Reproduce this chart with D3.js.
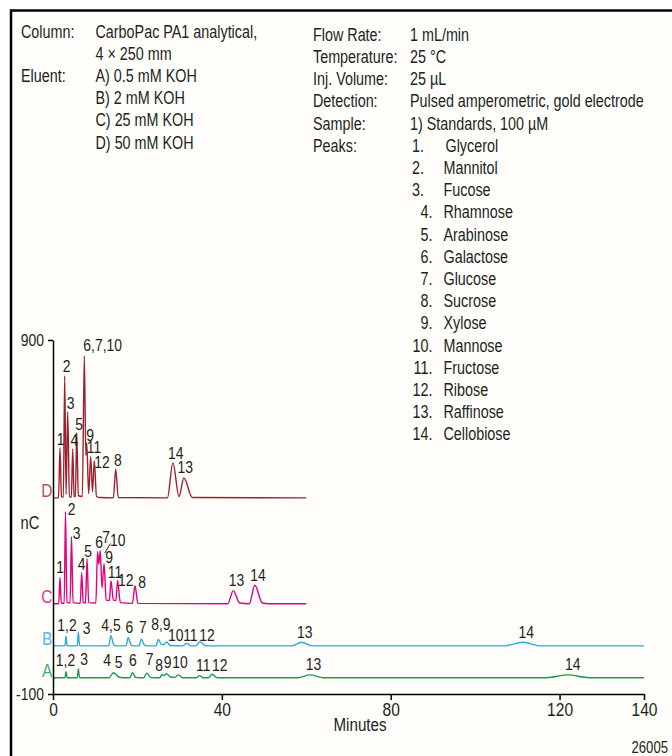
<!DOCTYPE html>
<html>
  <head>
    <script src="https://cdn.jsdelivr.net/npm/d3@7"></script>
    <style>
      body { margin: 0; background: #ffffff; }
      text { font-family: 'Liberation Sans', Arial, sans-serif; fill: #231f20; }
    </style>
  </head>
  <body>
    <script type="text/javascript">

    // Chromatogram traces, [minutes, nC above the trace's own baseline]
    var traceD = [[0,0],[1.3,0],[1.66,141],[2.0,4],[2.45,2],[2.77,345],[3.1,10],[3.48,243],[3.9,4],[4.35,2],
      [4.67,138],[5.0,4],[5.3,3],[5.62,184],[6.0,6],[6.95,4],[7.42,401],[7.78,120],[7.99,155],[8.45,12],
      [8.93,116],[9.35,18],[9.79,105],[10.3,4],[11,1],[14.3,0],[14.86,82],[15.45,1],[27.1,0],[28.4,99],
      [29.85,4],[31.0,56],[33.0,1],[60,0]];
    var traceC = [[0,0],[1.35,0],[1.66,74],[1.95,2],[2.65,1],[2.96,260],[3.3,4],[4.05,2],[4.38,189],[4.75,3],
      [6.45,1],[6.8,88],[7.15,3],[7.7,2],[8.06,127],[8.45,3],[10.15,2],[10.55,147],[10.85,112],[11.2,150],
      [11.6,45],[12.1,113],[12.6,10],[13.35,9],[13.74,65],[14.3,10],[14.9,9],[15.3,66],[15.95,3],[18.8,1],
      [19.43,51],[20.1,1],[41.4,0],[42.7,37],[44.2,2],[46.5,0],[47.8,52],[49.6,2],[51,0],[60,0]];
    var traceB = [[0,0],[2.85,0],[3.08,27],[3.35,0],[5.75,0],[6.0,39],[6.3,0],[13.2,0],[13.7,29],[14.4,3],
      [15,0],[17.3,0],[17.8,24],[18.5,2],[19,0],[20.4,0],[20.9,19],[21.7,2],[22.3,0],[24.4,0],[24.95,18],
      [25.7,4],[26.3,4],[26.9,11],[27.8,1],[30.8,0],[31.7,7],[32.6,0],[33.9,0],[34.8,12],[36,1],[37,0],
      [56.5,0],[58.9,10],[61.5,0],[107,0],[111.3,10],[115.5,0],[140,0]];
    var traceA = [[0,0],[2.85,0],[3.08,17],[3.35,0],[5.75,0],[6.0,25],[6.3,0],[13.3,0],[14.3,14],[15.6,2],
      [16.5,0],[18.2,0],[18.8,14],[19.6,1],[20.5,0],[21.5,0],[22.2,13],[23.1,1],[24,0],[25.3,0],[25.8,9],
      [26.3,6],[26.9,11],[27.8,2],[28.9,1],[29.7,8],[30.7,0],[33.9,0],[34.7,6],[35.6,0],[36.8,0],[37.7,10],
      [38.9,0],[58,0],[60.9,8],[64,0],[117,0],[121.9,8],[127,0],[140,0]];

    // Baseline of each trace (nC) and its name
    var traceNames = ["D", "C", "B", "A"];
    var traceOffsets = [454, 155, 36, -54];
    var traceColors = ["#9e1f30", "#e5007e", "#29abe2", "#13a04f"];

    // Peak labels, [text, minutes, nC]
    var labelsD = [["1",1.78,604],["2",3.2,810],["3",4.15,705],["4",5.05,601],["5",6.16,646],["6,7,10",11.78,870],
      ["9",8.77,616],["11",9.72,582],["12",11.6,538],["8",15.36,545],["14",29.1,563],["13",31.35,524]];
    var labelsC = [["1",1.66,242],["2",4.43,406],["3",5.62,338],["4",6.8,249],["5",8.29,288],["6",10.9,313],
      ["7",12.56,327],["10",15.36,319],["9",13.27,271],["11",14.69,228],["12",17.23,206],["8",21.09,200],
      ["13",43.44,204],["14",48.58,218]];
    var labelsB = [["1,2",3.32,79],["3",7.99,69],["4,5",13.74,79],["6",18.08,72],["7",21.28,73],["8,9",25.55,80],
      ["10",29.1,50],["11",32.54,50],["12",36.5,50],["13",59.64,58],["14",112.1,58]];
    var labelsA = [["1,2",2.96,-20],["3",7.35,-17],["4",12.8,-22],["5",15.52,-27],["6",18.91,-20],["7",22.87,-17],
      ["8",25.12,-34],["9",27.13,-26],["10",30.1,-26],["11",35.6,-34],["12",39.5,-34],["13",61.7,-31],["14",123.1,-31]];
    var pointer7 = [[13.6,325],[12.25,298]];

    // Axis ticks
    var xTicks = [0, 40, 80, 120, 140];
    var yTicks = [-100, 900];

    // Method text
    var leftKeys = ["Column:", "", "Eluent:", "", "", ""];
    var leftValues = ["CarboPac PA1 analytical,", "4 \u00d7 250 mm", "A) 0.5 mM KOH", "B) 2 mM KOH", "C) 25 mM KOH", "D) 50 mM KOH"];
    var rightKeys = ["Flow Rate:", "Temperature:", "Inj. Volume:", "Detection:", "Sample:", "Peaks:"];
    var rightValues = ["1 mL/min", "25 \u00b0C", "25 \u00b5L", "Pulsed amperometric, gold electrode", "1) Standards, 100 \u00b5M"];
    var peakNames = ["Glycerol", "Mannitol", "Fucose", "Rhamnose", "Arabinose", "Galactose", "Glucose",
      "Sucrose", "Xylose", "Mannose", "Fructose", "Ribose", "Raffinose", "Cellobiose"];

    var traces = [traceD, traceC, traceB, traceA];
    var labels = [labelsD, labelsC, labelsB, labelsA];

    // the original type is a condensed grotesque, so squeeze Liberation Sans
    var narrow = 0.82;

    var W = 672, H = 756;
    var svg = d3.select("body").append("svg")
      .attr("width", W)
      .attr("height", H);

    // text helper: squeezed horizontally around its anchor point
    function label(parent, px, py, str, size, anchor) {
      return parent.append("text")
        .attr("transform", "translate(" + px + "," + py + ") scale(" + narrow + ",1)")
        .attr("text-anchor", anchor || "start")
        .style("font-size", size + "px")
        .text(str);
    }

    // Frame, open at right and bottom
    svg.append("rect")
      .attr("x", 11).attr("y", 10.5)
      .attr("width", 700).attr("height", 800)
      .attr("fill", "#fffefa")
      .attr("stroke", "#000")
      .attr("stroke-width", 2.5);

    // Header text
    var lineH = 22.2;
    var head = svg.append("g");
    leftKeys.forEach(function(k, i) {
      label(head, 21, 37.5 + i * lineH, k, 17.5);
      label(head, 95.5, 37.5 + i * lineH, leftValues[i], 17.5);
    });
    rightKeys.forEach(function(k, i) {
      label(head, 313, 40.8 + i * lineH, k, 17.5);
      if (i < rightValues.length)
        label(head, 410, 40.8 + i * lineH, rightValues[i], 17.5);
    });
    peakNames.forEach(function(name, i) {
      var yy = 40.8 + (i + 5) * lineH;
      label(head, i < 3 ? 424 : 432.5, yy, (i + 1) + ".", 17.5, "end");
      label(head, i == 0 ? 445.5 : 443.5, yy, name, 17.5);
    });

    // Scales
    var x = d3.scaleLinear().domain([0, 140]).range([53, 644]);
    var y = d3.scaleLinear().domain([-100, 900]).range([694, 340]);

    // Traces
    traces.forEach(function(tr, i) {
      var off = traceOffsets[i];
      var line = d3.line()
        .x(function(d) { return x(d[0]); })
        .y(function(d) { return y(d[1] + off); })
        .curve(d3.curveMonotoneX);
      svg.append("path")
        .datum(tr)
        .attr("d", line)
        .attr("fill", "none")
        .attr("stroke", traceColors[i])
        .attr("stroke-width", 1.4)
        .attr("stroke-linejoin", "round");

      label(svg, x(0) - 0.5, y(off) - 0.5, traceNames[i], 19, "end")
        .style("fill", traceColors[i])
        .style("opacity", 0.8);

      var g = svg.append("g");
      labels[i].forEach(function(d) {
        label(g, x(d[1]), y(d[2]), d[0], 17, "middle");
      });
    });

    // Little pointer from the "7" label in trace C
    svg.append("line")
      .attr("x1", x(pointer7[0][0])).attr("y1", y(pointer7[0][1]))
      .attr("x2", x(pointer7[1][0])).attr("y2", y(pointer7[1][1]))
      .attr("stroke", "#231f20")
      .attr("stroke-width", 1);

    // Axes
    var xAxis = d3.axisBottom(x).tickValues(xTicks).tickSize(6).tickSizeOuter(0).tickPadding(3);
    var yAxis = d3.axisLeft(y).tickValues(yTicks).tickSize(5).tickSizeOuter(0).tickPadding(4)
      .tickFormat(function(d) { return String(d); });

    var gx = svg.append("g")
      .attr("transform", "translate(0," + y(-100) + ")")
      .call(xAxis);
    var gy = svg.append("g")
      .attr("transform", "translate(" + x(0) + ",0)")
      .call(yAxis);

    [gx, gy].forEach(function(g) {
      g.select(".domain").attr("stroke", "#000").attr("stroke-width", 1.5);
      g.selectAll(".tick line").attr("stroke", "#000").attr("stroke-width", 1.5);
      g.selectAll(".tick text")
        .attr("fill", "#231f20")
        .style("font-family", "'Liberation Sans', Arial, sans-serif");
    });
    gx.selectAll(".tick text").style("font-size", "19px")
      .attr("transform", "scale(" + narrow + ",1)");
    gy.selectAll(".tick text").style("font-size", "17px")
      .attr("x", -9 / narrow)
      .attr("transform", "scale(" + narrow + ",1)");

    // Axis labels
    label(svg, 360, 731, "Minutes", 18.5, "middle");
    label(svg, 30, 529, "nC", 18, "middle");
    label(svg, 668, 753, "26005", 16, "end");

    </script>
  </body>
</html>
